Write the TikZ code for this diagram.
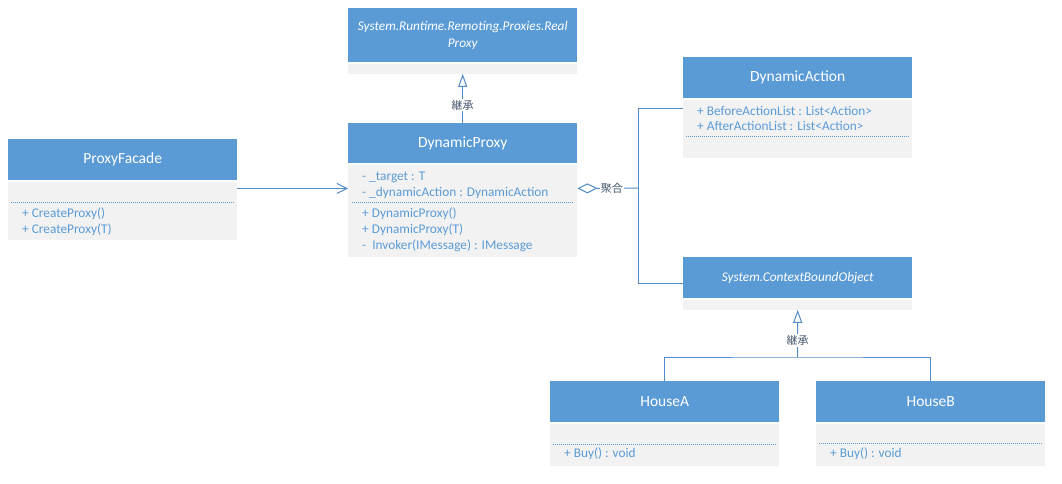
\documentclass[tikz,border=0pt]{standalone}
\usepackage{fontspec}
\setmainfont{Carlito}
\newfontfamily\cjkfont{Noto Sans CJK JP}
\usetikzlibrary{arrows.meta}
\definecolor{hdrblue}{RGB}{91,155,213}
\definecolor{bodygray}{RGB}{242,242,242}
\definecolor{txtblue}{RGB}{91,155,213}
\definecolor{lineblue}{RGB}{80,140,200}
\definecolor{lblgray}{RGB}{68,84,106}
\newcommand{\hdrfont}{\fontsize{15.5}{18}\selectfont}
\newcommand{\memfont}{\fontsize{13.3}{16}\selectfont}
\tikzset{
  hdr/.style={rectangle, fill=hdrblue, text=white, minimum width=229pt, anchor=north west, inner sep=0pt, font=\hdrfont, align=center},
  bdy/.style={rectangle, fill=bodygray, minimum width=229pt, anchor=north west, inner sep=0pt},
  mem/.style={anchor=base west, inner sep=0pt, text=txtblue, font=\memfont},
  sepline/.style={draw=txtblue, line width=0.6pt, dash pattern=on 1pt off 1pt},
  conn/.style={draw=lineblue, line width=1pt},
  inh/.style={conn, -{Triangle[open, length=13pt, width=9pt, line width=1pt]}},
  dep/.style={conn, -{Straight Barb[length=10pt, width=10pt, line width=1pt]}},
  agg/.style={conn, {Diamond[open, length=20pt, width=10pt, line width=1pt]}-},
  lbl/.style={fill=white, text=lblgray, font=\cjkfont\fontsize{11}{12}\selectfont, inner sep=1pt}
}
\begin{document}
\begin{tikzpicture}[x=1pt,y=-1pt]
\useasboundingbox[fill=white] (0,0) rectangle (1062,483);

% RealProxy
\node[hdr, minimum height=54pt] (rp) at (348,8) {\memfont\itshape System.Runtime.Remoting.Proxies.Real\\[-1pt]\memfont\itshape Proxy};
\node[bdy, minimum height=10pt] (rpb) at ([yshift=-1pt]rp.south west) {};

% DynamicProxy
\node[hdr, minimum height=40pt] (dp) at (348,123) {DynamicProxy};
\node[bdy, minimum height=92pt] (dpb) at ([yshift=-1pt]dp.south west) {};
\node[mem] (dp1) at (362,180.5) {- \_target : T};
\node[mem] (dp2) at (362,196.5) {- \_dynamicAction : DynamicAction};
\draw[sepline] (352,202) -- (573,202);
\node[mem] (dp3) at (362,217) {+ DynamicProxy()};
\node[mem] (dp4) at (362,233) {+ DynamicProxy(T)};
\node[mem] (dp5) at (362,249) {-\ \ Invoker(IMessage) : IMessage};

% ProxyFacade
\node[hdr, minimum height=41pt] (pf) at (8,139) {ProxyFacade};
\node[bdy, minimum height=58pt] (pfb) at ([yshift=-1pt]pf.south west) {};
\draw[sepline] (11,202.5) -- (235,202.5);
\node[mem] (pf1) at (22,217) {+ CreateProxy()};
\node[mem] (pf2) at (22,233) {+ CreateProxy(T)};

% DynamicAction
\node[hdr, minimum height=41pt] (da) at (683,57) {DynamicAction};
\node[bdy, minimum height=58pt] (dab) at ([yshift=-1pt]da.south west) {};
\node[mem] (da1) at (697,115) {+ BeforeActionList : List<Action>};
\node[mem] (da2) at (697,130.5) {+ AfterActionList : List<Action>};
\draw[sepline] (686,136) -- (910,136);

% ContextBoundObject
\node[hdr, minimum height=41pt] (cbo) at (683,257) {\memfont\itshape System.ContextBoundObject};
\node[bdy, minimum height=10pt] (cbob) at ([yshift=-1pt]cbo.south west) {};

% HouseA
\node[hdr, minimum height=41pt] (ha) at (550,381) {HouseA};
\node[bdy, minimum height=42pt] (hab) at ([yshift=-1pt]ha.south west) {};
\draw[sepline] (553,444) -- (776,444);
\node[mem] (ha1) at (564,457.5) {+ Buy() : void};

% HouseB
\node[hdr, minimum height=41pt] (hb) at (816,381) {HouseB};
\node[bdy, minimum height=42pt] (hbb) at ([yshift=-1pt]hb.south west) {};
\draw[sepline] (819,443) -- (1042,443);
\node[mem] (hb1) at (830,457.5) {+ Buy() : void};

% connectors
\draw[inh] (dp.north) -- (rpb.south) node[lbl, pos=0.36] {継承};

\coordinate (d1) at ([yshift=-7pt]pfb.north east);
\draw[dep] (d1) -- (d1 -| dpb.west);

\coordinate (a1) at ([yshift=-24pt]dpb.north east);
\coordinate (j) at (638,188);
\draw[agg] (a1) -- (j) node[lbl, pos=0.57] {聚合};
\draw[conn] (j) |- ([yshift=-9pt]dab.north west);
\draw[conn] (j) |- ([yshift=15pt]cbo.south west);

\coordinate (k) at (797.5,357);
\draw[inh] (k) -- (cbob.south) node[lbl, pos=0.35] {継承};
\draw[conn] (ha.north) |- (k) -| (hb.north);
\end{tikzpicture}
\end{document}
